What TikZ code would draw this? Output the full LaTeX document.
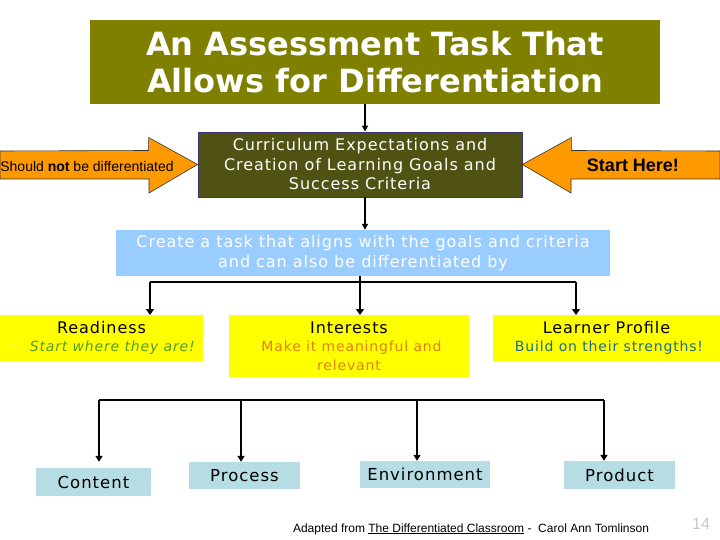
\documentclass[tikz,border=0pt]{standalone}
\usepackage{fontspec}
\setmainfont{DejaVu Sans}
\newfontfamily\verdana{DejaVu Sans}[LetterSpace=6]
\newfontfamily\arialfont{Liberation Sans}
\usetikzlibrary{arrows.meta}
\definecolor{titleolive}{RGB}{128,128,0}
\definecolor{goalolive}{RGB}{80,82,20}
\definecolor{goalline}{RGB}{60,50,120}
\definecolor{arroworange}{RGB}{255,153,0}
\definecolor{taskblue}{RGB}{153,204,255}
\definecolor{wayyellow}{RGB}{255,255,0}
\definecolor{formteal}{RGB}{183,221,228}
\definecolor{readygreen}{RGB}{85,155,35}
\definecolor{interorange}{RGB}{228,128,20}
\definecolor{profileblue}{RGB}{30,105,145}
\definecolor{faintdash}{RGB}{240,240,170}
\definecolor{pagegray}{RGB}{200,200,200}
\newcommand{\subline}{\fontsize{14}{16}\selectfont}
\begin{document}
\begin{tikzpicture}[x=1pt,y=-1pt]
	\tikzstyle{titlebox}=[fill=titleolive,text=white,inner sep=0pt,align=center,font=\bfseries\fontsize{32}{37}\selectfont]
	\tikzstyle{goalbox}=[fill=goalolive,draw=goalline,line width=0.8pt,text=white,inner sep=0pt,align=center,font=\verdana\fontsize{16}{19.5}\selectfont]
	\tikzstyle{taskbox}=[fill=taskblue,text=white,inner sep=0pt,align=center,font=\verdana\fontsize{16}{20}\selectfont]
	\tikzstyle{waybox}=[fill=wayyellow,inner sep=0pt,align=center,anchor=north,font=\verdana\fontsize{16}{20}\selectfont]
	\tikzstyle{formbox}=[fill=formteal,inner sep=0pt,font=\verdana\fontsize{16.5}{20}\selectfont]
	\tikzstyle{orangearrow}=[fill=arroworange,draw=black!80,line width=0.6pt]
	\tikzstyle{note}=[inner sep=0pt,font=\arialfont\fontsize{14}{16}\selectfont]
	\tikzstyle{bigflow}=[line width=2.6pt,-{Triangle[length=6pt,width=8pt]}]
	\tikzstyle{smallflow}=[line width=1.5pt,-{Triangle[length=6pt,width=7pt]}]
	\useasboundingbox (0,0) rectangle (720,540);
	\node[titlebox,minimum width=570pt,minimum height=84pt] (A-title) at (375,62) {An Assessment Task That\\Allows for Differentiation};
	\node[goalbox,minimum width=324pt,minimum height=65pt] (A-goals) at (360,164.5) {Curriculum Expectations and\\Creation of Learning Goals and\\Success Criteria};
	\node[taskbox,minimum width=494pt,minimum height=46pt] (A-task) at (363,253) {Create a task that aligns with the goals and criteria\\and can also be differentiated by};
	% the two orange arrows
	\draw[orangearrow] (A-goals.west) -- ++(-49,-27) -- ++(0,13) -- (0,151) -- (0,179) -- (149,179) -- ++(0,14) -- cycle;
	\draw[orangearrow] (A-goals.east) -- ++(49,-27) -- ++(0,13) -- (720,151) -- (720,179) -- (571,179) -- ++(0,14) -- cycle;
	\node[note] (N-not) at (87,166) {Should \textbf{not} be differentiated};
	\node[note,font=\arialfont\bfseries\fontsize{18}{20}\selectfont] (N-start) at (633,165) {Start Here!};
	\draw[line width=1.4pt,-{Triangle[length=6pt,width=6pt]}] ([xshift=5pt]A-goals.north |- A-title.south) -- ([xshift=5pt]A-goals.north);
	\draw[line width=1.4pt,-{Triangle[length=6pt,width=6pt]}] ([xshift=5pt]A-goals.south) -- ([xshift=5pt]A-goals.south |- A-task.north);
	% ways to differentiate
	\node[waybox,minimum width=203pt,minimum height=46pt] (W-ready) at (101.5,315) {Readiness\\[-2pt]\subline\itshape\color{faintdash}--\ \ \color{readygreen}Start where they are!};
	\node[waybox,minimum width=240pt,minimum height=62pt] (W-interest) at (349,315) {Interests\\[-2pt]\subline\color{faintdash}-\color{interorange}Make it meaningful and\\[-1pt]\subline\color{interorange}relevant};
	\node[waybox,minimum width=227pt,minimum height=46pt] (W-profile) at (606.5,315) {Learner Profile\\[-2pt]\subline\color{faintdash}-\color{profileblue}Build on their strengths!};
	\coordinate (S-left) at (150,282);
	\coordinate (S-right) at (576,282);
	\draw[line width=2.6pt] (S-left) -- (S-right);
	\draw[bigflow] (S-left) -- (S-left |- W-ready.north);
	\draw[bigflow] ([xshift=-3pt]A-task.south) -- ([xshift=-3pt]A-task.south |- W-interest.north);
	\draw[bigflow] (S-right) -- (S-right |- W-profile.north);
	% what can be differentiated
	\node[formbox,minimum width=115pt,minimum height=28pt] (F-content) at (93.5,482) {Content};
	\node[formbox,minimum width=111pt,minimum height=27pt] (F-process) at (244.5,475.5) {Process};
	\node[formbox,minimum width=130pt,minimum height=27pt] (F-environment) at (425,474.5) {Environment};
	\node[formbox,minimum width=111pt,minimum height=28pt] (F-product) at (619.5,475) {Product};
	\coordinate (B-left) at (99,400);
	\coordinate (B-process) at (241,400);
	\coordinate (B-environment) at (417,400);
	\coordinate (B-right) at (604,400);
	\draw[line width=1.5pt] (B-left) -- (B-right);
	\draw[smallflow] (B-left) -- ([yshift=6pt]B-left |- F-content.north);
	\draw[smallflow] (B-process) -- (B-process |- F-process.north);
	\draw[smallflow] (B-environment) -- (B-environment |- F-environment.north);
	\draw[smallflow] (B-right) -- (B-right |- F-product.north);
	\node[note,font=\arialfont\fontsize{12}{14}\selectfont] (N-source) at (471,529) {Adapted from \underline{The Differentiated Classroom} -\ \ Carol Ann Tomlinson};
	\node[note,text=pagegray,font=\arialfont\fontsize{16}{18}\selectfont] (N-page) at (701,524) {14};
\end{tikzpicture}
\end{document}
